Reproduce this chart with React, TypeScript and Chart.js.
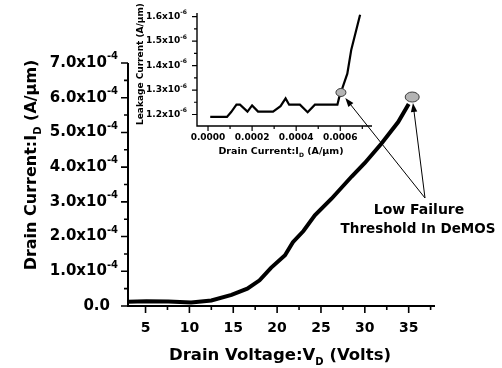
import React, { useEffect, useRef } from "react";
import Chart from "chart.js/auto";

// Main curve: drain voltage (V) vs drain current (A/µm)
const drainVoltage = [3.0, 5.1, 7.6, 10.2, 12.5, 14.8, 16.6, 18.0, 19.3, 20.9, 21.8, 23.0, 24.3, 26.2, 28.5, 30.0, 31.9, 33.8, 35.0];
const drainCurrent = [0.12e-4, 0.14e-4, 0.13e-4, 0.10e-4, 0.16e-4, 0.32e-4, 0.50e-4, 0.74e-4, 1.10e-4, 1.46e-4, 1.84e-4, 2.16e-4, 2.61e-4, 3.09e-4, 3.73e-4, 4.12e-4, 4.68e-4, 5.30e-4, 5.82e-4];
const failurePoint = { x: 35.4, y: 6.02e-4 };

// Inset: drain current vs leakage current
const insetDrain = [0.10e-4, 0.86e-4, 1.05e-4, 1.29e-4, 1.45e-4, 1.79e-4, 2.0e-4, 2.27e-4, 2.95e-4, 3.29e-4, 3.52e-4, 3.68e-4, 4.17e-4, 4.52e-4, 4.85e-4, 5.87e-4, 5.95e-4, 6.03e-4, 6.32e-4, 6.5e-4, 6.9e-4];
const insetLeakage = [1.19e-6, 1.19e-6, 1.21e-6, 1.24e-6, 1.24e-6, 1.212e-6, 1.237e-6, 1.212e-6, 1.212e-6, 1.234e-6, 1.266e-6, 1.24e-6, 1.24e-6, 1.209e-6, 1.24e-6, 1.24e-6, 1.27e-6, 1.29e-6, 1.367e-6, 1.465e-6, 1.608e-6];
const insetFailurePoint = { x: 6.03e-4, y: 1.29e-6 };

// Tick values and labels
const xMajorTicks = [5, 10, 15, 20, 25, 30, 35];
const xMinorTicks = [7.5, 12.5, 17.5, 22.5, 27.5, 32.5, 37.5];
const yMajorTicks = [0, 1e-4, 2e-4, 3e-4, 4e-4, 5e-4, 6e-4, 7e-4];
const yMajorLabels = ["0.0", "1.0x10", "2.0x10", "3.0x10", "4.0x10", "5.0x10", "6.0x10", "7.0x10"];
const yMinorTicks = [0.5e-4, 1.5e-4, 2.5e-4, 3.5e-4, 4.5e-4, 5.5e-4, 6.5e-4];

const insetXMajorTicks = [0, 2e-4, 4e-4, 6e-4];
const insetXLabels = ["0.0000", "0.0002", "0.0004", "0.0006"];
const insetXMinorTicks = [1e-4, 3e-4, 5e-4, 7e-4];
const insetYMajorTicks = [1.2e-6, 1.3e-6, 1.4e-6, 1.5e-6, 1.6e-6];
const insetYLabels = ["1.2x10", "1.3x10", "1.4x10", "1.5x10", "1.6x10"];
const insetYMinorTicks = [1.25e-6, 1.35e-6, 1.45e-6, 1.55e-6];

const FONT = "'DejaVu Sans', sans-serif";
const W = 502;
const H = 368;

function drawSupLabel(ctx: CanvasRenderingContext2D, base: string, sup: string, right: number, midY: number, size: number, supSize: number) {
  ctx.font = `bold ${size}px ${FONT}`;
  const wb = ctx.measureText(base).width;
  ctx.font = `bold ${supSize}px ${FONT}`;
  const ws = sup ? ctx.measureText(sup).width : 0;
  const x0 = right - wb - ws;
  ctx.textAlign = "left";
  ctx.textBaseline = "middle";
  ctx.font = `bold ${size}px ${FONT}`;
  ctx.fillText(base, x0, midY);
  if (sup) {
    ctx.font = `bold ${supSize}px ${FONT}`;
    ctx.fillText(sup, x0 + wb, midY - size * 0.42);
  }
}

// Draws "pre" + subscript + "post" centered at cx with given baseline
function drawSubText(ctx: CanvasRenderingContext2D, pre: string, sub: string, post: string, cx: number, baseY: number, size: number, subSize: number) {
  ctx.textBaseline = "alphabetic";
  ctx.textAlign = "left";
  ctx.font = `bold ${size}px ${FONT}`;
  const w1 = ctx.measureText(pre).width;
  const w3 = ctx.measureText(post).width;
  ctx.font = `bold ${subSize}px ${FONT}`;
  const w2 = ctx.measureText(sub).width;
  let x = cx - (w1 + w2 + w3) / 2;
  ctx.font = `bold ${size}px ${FONT}`;
  ctx.fillText(pre, x, baseY);
  x += w1;
  ctx.font = `bold ${subSize}px ${FONT}`;
  ctx.fillText(sub, x, baseY + size * 0.3);
  x += w2;
  ctx.font = `bold ${size}px ${FONT}`;
  ctx.fillText(post, x, baseY);
}

function drawEllipseMarker(ctx: CanvasRenderingContext2D, x: number, y: number, rx: number, ry: number) {
  ctx.save();
  ctx.beginPath();
  ctx.ellipse(x, y, rx, ry, 0, 0, Math.PI * 2);
  ctx.fillStyle = "#b4b4b4";
  ctx.fill();
  ctx.lineWidth = 1;
  ctx.strokeStyle = "#3a3a3a";
  ctx.stroke();
  ctx.restore();
}

function drawArrow(ctx: CanvasRenderingContext2D, x0: number, y0: number, x1: number, y1: number) {
  const ang = Math.atan2(y1 - y0, x1 - x0);
  const len = 9;
  const half = 3.2;
  ctx.save();
  ctx.strokeStyle = "#000";
  ctx.fillStyle = "#000";
  ctx.lineWidth = 1;
  ctx.beginPath();
  ctx.moveTo(x0, y0);
  ctx.lineTo(x1 - Math.cos(ang) * len * 0.8, y1 - Math.sin(ang) * len * 0.8);
  ctx.stroke();
  ctx.beginPath();
  ctx.moveTo(x1, y1);
  ctx.lineTo(x1 - Math.cos(ang) * len - Math.sin(ang) * half, y1 - Math.sin(ang) * len + Math.cos(ang) * half);
  ctx.lineTo(x1 - Math.cos(ang) * len + Math.sin(ang) * half, y1 - Math.sin(ang) * len - Math.cos(ang) * half);
  ctx.closePath();
  ctx.fill();
  ctx.restore();
}

export default function App() {
  const mainRef = useRef<HTMLCanvasElement | null>(null);
  const insetRef = useRef<HTMLCanvasElement | null>(null);

  useEffect(() => {
    if (!mainRef.current || !insetRef.current) return;

    const mainAxes = {
      id: "mainAxes",
      afterDraw(chart: any) {
        const ctx = chart.ctx as CanvasRenderingContext2D;
        const { left, right, top, bottom } = chart.chartArea;
        const xs = chart.scales.x;
        const ys = chart.scales.y;
        ctx.save();
        ctx.strokeStyle = "#000";
        ctx.fillStyle = "#000";
        ctx.lineWidth = 2;
        ctx.beginPath();
        ctx.moveTo(left, top);
        ctx.lineTo(left, bottom);
        ctx.lineTo(right, bottom);
        ctx.stroke();

        ctx.lineWidth = 1.6;
        ctx.beginPath();
        xMajorTicks.forEach((v) => {
          const px = xs.getPixelForValue(v);
          ctx.moveTo(px, bottom);
          ctx.lineTo(px, bottom + 7);
        });
        xMinorTicks.forEach((v) => {
          const px = xs.getPixelForValue(v);
          ctx.moveTo(px, bottom);
          ctx.lineTo(px, bottom + 4);
        });
        yMajorTicks.forEach((v) => {
          const py = ys.getPixelForValue(v);
          ctx.moveTo(left, py);
          ctx.lineTo(left - 7, py);
        });
        yMinorTicks.forEach((v) => {
          const py = ys.getPixelForValue(v);
          ctx.moveTo(left, py);
          ctx.lineTo(left - 4, py);
        });
        ctx.stroke();

        // tick labels
        ctx.font = `bold 14px ${FONT}`;
        ctx.textAlign = "center";
        ctx.textBaseline = "middle";
        xMajorTicks.forEach((v) => {
          ctx.fillText(String(v), xs.getPixelForValue(v), bottom + 22);
        });
        yMajorTicks.forEach((v, i) => {
          const py = ys.getPixelForValue(v);
          if (i === 0) {
            drawSupLabel(ctx, yMajorLabels[i], "", left - 18, py, 15, 10);
          } else {
            drawSupLabel(ctx, yMajorLabels[i], "-4", left - 10, py, 15, 10);
          }
        });

        // axis titles
        drawSubText(ctx, "Drain Voltage:V", "D", " (Volts)", 280, 360, 16.5, 10);
        ctx.save();
        ctx.translate(36, 165);
        ctx.rotate(-Math.PI / 2);
        drawSubText(ctx, "Drain Current:I", "D", " (A/\u00B5m)", 0, 0, 16, 10);
        ctx.restore();

        ctx.restore();
      },
    };

    const main = new Chart(mainRef.current, {
      type: "line",
      data: {
        datasets: [
          {
            data: drainVoltage.map((v, i) => ({ x: v, y: drainCurrent[i] })),
            borderColor: "#000",
            borderWidth: 4,
            pointRadius: 0,
            tension: 0,
            fill: false,
          },
        ],
      },
      options: {
        responsive: false,
        animation: false,
        devicePixelRatio: 1,
        layout: { padding: { left: 128, right: 67, top: 63, bottom: 62 } },
        plugins: { legend: { display: false }, tooltip: { enabled: false } },
        scales: {
          x: { type: "linear", min: 3, max: 38, display: false },
          y: { type: "linear", min: 0, max: 7e-4, display: false },
        },
      },
      plugins: [mainAxes],
    });

    const insetAxes = {
      id: "insetAxes",
      afterDraw(chart: any) {
        const ctx = chart.ctx as CanvasRenderingContext2D;
        const { left, right, top, bottom } = chart.chartArea;
        const xs = chart.scales.x;
        const ys = chart.scales.y;
        ctx.save();
        ctx.strokeStyle = "#000";
        ctx.fillStyle = "#000";
        ctx.lineWidth = 1.4;
        ctx.beginPath();
        ctx.moveTo(left, top);
        ctx.lineTo(left, bottom);
        ctx.lineTo(right, bottom);
        ctx.stroke();

        ctx.lineWidth = 1.2;
        ctx.beginPath();
        insetXMajorTicks.forEach((v) => {
          const px = xs.getPixelForValue(v);
          ctx.moveTo(px, bottom);
          ctx.lineTo(px, bottom + 5);
        });
        insetXMinorTicks.forEach((v) => {
          const px = xs.getPixelForValue(v);
          ctx.moveTo(px, bottom);
          ctx.lineTo(px, bottom + 3);
        });
        insetYMajorTicks.forEach((v) => {
          const py = ys.getPixelForValue(v);
          ctx.moveTo(left, py);
          ctx.lineTo(left - 5, py);
        });
        insetYMinorTicks.forEach((v) => {
          const py = ys.getPixelForValue(v);
          ctx.moveTo(left, py);
          ctx.lineTo(left - 3, py);
        });
        ctx.stroke();

        ctx.font = `bold 9px ${FONT}`;
        ctx.textAlign = "center";
        ctx.textBaseline = "middle";
        insetXMajorTicks.forEach((v, i) => {
          ctx.fillText(insetXLabels[i], xs.getPixelForValue(v), bottom + 12);
        });
        insetYMajorTicks.forEach((v, i) => {
          drawSupLabel(ctx, insetYLabels[i], "-6", left - 10, ys.getPixelForValue(v), 9, 6);
        });

        drawSubText(ctx, "Drain Current:I", "D", " (A/\u00B5m)", 281, 154, 9.5, 6);
        ctx.save();
        ctx.translate(143, 64);
        ctx.rotate(-Math.PI / 2);
        drawSubText(ctx, "Leakage Current (A/\u00B5m)", "", "", 0, 0, 9, 6);
        ctx.restore();

        // failure markers
        const ix = xs.getPixelForValue(insetFailurePoint.x);
        const iy = ys.getPixelForValue(insetFailurePoint.y);
        drawEllipseMarker(ctx, ix, iy, 5, 4);
        const mx = main.scales.x.getPixelForValue(failurePoint.x);
        const my = main.scales.y.getPixelForValue(failurePoint.y);
        drawEllipseMarker(ctx, mx, my, 7, 5);

        // annotation text and arrows
        ctx.font = `bold 14px ${FONT}`;
        ctx.textAlign = "center";
        ctx.textBaseline = "alphabetic";
        ctx.fillText("Low Failure", 419, 214);
        ctx.font = `bold 13.5px ${FONT}`;
        ctx.fillText("Threshold In DeMOS", 418, 233);

        const sx = 425;
        const sy = 198;
        const tip = (cx: number, cy: number, r: number) => {
          const d = Math.hypot(sx - cx, sy - cy);
          return [cx + ((sx - cx) / d) * r, cy + ((sy - cy) / d) * r];
        };
        const [t1x, t1y] = tip(ix, iy, 7);
        drawArrow(ctx, sx, sy, t1x, t1y);
        const [t2x, t2y] = tip(mx, my, 6);
        drawArrow(ctx, sx, sy, t2x, t2y);

        ctx.restore();
      },
    };

    const inset = new Chart(insetRef.current, {
      type: "line",
      data: {
        datasets: [
          {
            data: insetDrain.map((v, i) => ({ x: v, y: insetLeakage[i] })),
            borderColor: "#000",
            borderWidth: 2.2,
            pointRadius: 0,
            tension: 0,
            fill: false,
          },
        ],
      },
      options: {
        responsive: false,
        animation: false,
        devicePixelRatio: 1,
        layout: { padding: { left: 197, right: 130, top: 13, bottom: 242 } },
        plugins: { legend: { display: false }, tooltip: { enabled: false } },
        scales: {
          x: { type: "linear", min: -0.5e-4, max: 7.44e-4, display: false },
          y: { type: "linear", min: 1.153e-6, max: 1.615e-6, display: false },
        },
      },
      plugins: [insetAxes],
    });

    return () => {
      inset.destroy();
      main.destroy();
    };
  }, []);

  return (
    <div style={{ position: "absolute", left: 0, top: 0, width: W, height: H, background: "#fff" }}>
      <canvas ref={mainRef} width={W} height={H} style={{ position: "absolute", left: 0, top: 0 }} />
      <canvas ref={insetRef} width={W} height={H} style={{ position: "absolute", left: 0, top: 0 }} />
    </div>
  );
}
